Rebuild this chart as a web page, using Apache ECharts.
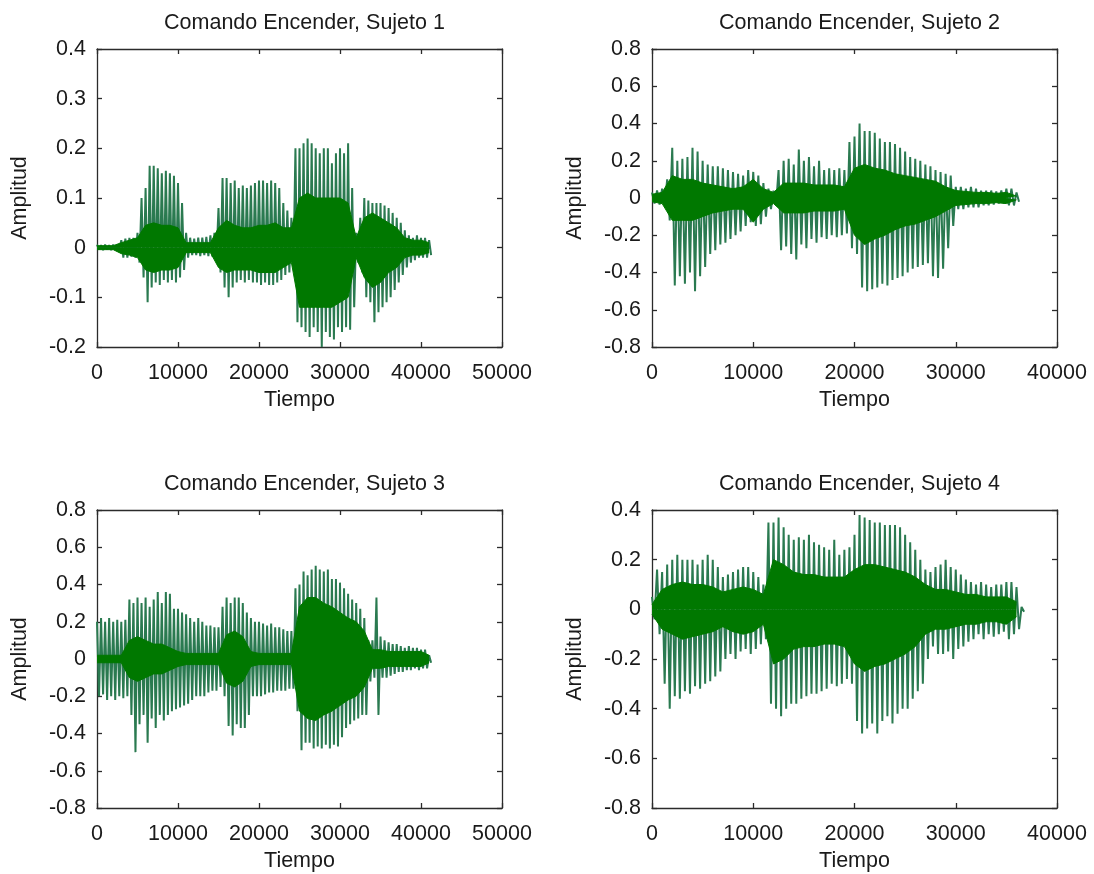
<!DOCTYPE html>
<html>
<head>
<meta charset="utf-8">
<script src="https://cdn.jsdelivr.net/npm/echarts@6/dist/echarts.min.js"></script>
<style>
  html, body { margin: 0; padding: 0; background: #fff; }
  #chart { width: 1094px; height: 874px; }
</style>
</head>
<body>
<div id="chart"></div>
<script>
// samples between two read-off peaks / between two core readings
const binStep = 500;
const coreStep = 1000;

const titles = ['Comando Encender, Sujeto 1', 'Comando Encender, Sujeto 2',
                'Comando Encender, Sujeto 3', 'Comando Encender, Sujeto 4'];
const xMaxes = [50000, 40000, 50000, 40000];
const yMins = [-0.2, -0.8, -0.8, -0.8];
const yMaxes = [0.4, 0.8, 0.8, 0.4];
const yIntervals = [0.1, 0.2, 0.2, 0.2];

// Sujeto 1: peak / trough every 500 samples (0 .. 41000)
const s1Peak = [0.006, 0.005, 0.006, 0.005, 0.006, 0.006, 0.015, 0.018, 0.02, 0.02, 0.03,
  0.1, 0.12, 0.165, 0.165, 0.16, 0.15, 0.155, 0.15, 0.145, 0.13, 0.09,
  0.03, 0.02, 0.018, 0.02, 0.02, 0.022, 0.025, 0.03,
  0.08, 0.14, 0.14, 0.13, 0.135, 0.12, 0.125, 0.12, 0.125, 0.13, 0.135, 0.135, 0.13, 0.135, 0.13, 0.12, 0.09, 0.075, 0.06,
  0.2, 0.2, 0.21, 0.22, 0.21, 0.2, 0.19, 0.2, 0.2, 0.17, 0.19, 0.2, 0.19, 0.21, 0.12,
  0.03, 0.06, 0.1, 0.095, 0.09, 0.09, 0.09, 0.085, 0.08, 0.07, 0.06, 0.05, 0.035, 0.025,
  0.02, 0.025, 0.02, 0.02, 0.015];
const s1Trough = [-0.004, -0.005, -0.004, -0.005, -0.004, -0.005, -0.02, -0.02, -0.018, -0.02, -0.03,
  -0.06, -0.11, -0.08, -0.07, -0.075, -0.065, -0.07, -0.065, -0.07, -0.06, -0.045,
  -0.02, -0.015, -0.015, -0.017, -0.015, -0.017, -0.018, -0.02,
  -0.05, -0.08, -0.1, -0.08, -0.07, -0.065, -0.07, -0.065, -0.07, -0.07, -0.075, -0.07, -0.075, -0.075, -0.07, -0.065, -0.055, -0.05, -0.04,
  -0.15, -0.16, -0.17, -0.18, -0.16, -0.17, -0.2, -0.17, -0.18, -0.185, -0.16, -0.17, -0.16, -0.165, -0.12,
  -0.03, -0.05, -0.1, -0.11, -0.15, -0.13, -0.12, -0.11, -0.1, -0.085, -0.07, -0.055, -0.04, -0.03,
  -0.025, -0.02, -0.02, -0.02, -0.015];
// dense core every 1000 samples (0 .. 41000)
const s1CoreTop = [0.004, 0.004, 0.004, 0.01, 0.015, 0.02, 0.045, 0.05, 0.045, 0.045, 0.04,
  0.01, 0.01, 0.01, 0.01, 0.04, 0.055, 0.045, 0.04, 0.04, 0.045, 0.045, 0.05, 0.04, 0.04,
  0.1, 0.11, 0.1, 0.1, 0.1, 0.1, 0.09, 0.02, 0.06, 0.07, 0.06, 0.05, 0.04, 0.02, 0.015, 0.015, 0.01];
const s1CoreBottom = [-0.004, -0.004, -0.004, -0.012, -0.015, -0.02, -0.045, -0.05, -0.045, -0.045, -0.04,
  -0.01, -0.01, -0.01, -0.01, -0.04, -0.05, -0.045, -0.045, -0.045, -0.05, -0.05, -0.05, -0.04, -0.03,
  -0.12, -0.12, -0.12, -0.12, -0.12, -0.11, -0.1, -0.02, -0.06, -0.08, -0.07, -0.05, -0.04, -0.02, -0.015, -0.015, -0.01];

// Sujeto 2 (0 .. 36000)
const s2Peak = [0.03, 0.04, 0.05, 0.1, 0.27, 0.2, 0.21, 0.22, 0.27, 0.25, 0.2, 0.18, 0.17, 0.17, 0.16, 0.15,
  0.14, 0.13, 0.12, 0.15, 0.14, 0.12, 0.08, 0.05, 0.04,
  0.15, 0.2, 0.21, 0.18, 0.26, 0.2, 0.22, 0.17, 0.2, 0.15, 0.16, 0.15, 0.16, 0.15,
  0.3, 0.33, 0.4, 0.36, 0.36, 0.35, 0.32, 0.3, 0.3, 0.29, 0.27, 0.25, 0.22, 0.21, 0.2, 0.18, 0.17, 0.15, 0.14, 0.13, 0.12,
  0.06, 0.06, 0.05, 0.06, 0.05, 0.04, 0.04, 0.04, 0.035, 0.04, 0.05, 0.05, 0.03];
const s2Trough = [-0.03, -0.035, -0.04, -0.12, -0.47, -0.42, -0.46, -0.4, -0.5, -0.42, -0.37, -0.3, -0.28, -0.25, -0.24, -0.22,
  -0.2, -0.18, -0.15, -0.13, -0.15, -0.14, -0.1, -0.06, -0.04,
  -0.28, -0.26, -0.3, -0.33, -0.25, -0.27, -0.22, -0.24, -0.21, -0.22, -0.2, -0.21, -0.2, -0.19,
  -0.27, -0.3, -0.48, -0.5, -0.49, -0.48, -0.46, -0.47, -0.44, -0.43, -0.42, -0.4, -0.38, -0.37, -0.36, -0.35, -0.42, -0.43, -0.38, -0.27, -0.15,
  -0.06, -0.06, -0.05, -0.05, -0.05, -0.04, -0.04, -0.035, -0.03, -0.03, -0.04, -0.04, -0.02];
const s2CoreTop = [0.02, 0.03, 0.12, 0.1, 0.1, 0.08, 0.07, 0.06, 0.05, 0.06, 0.1, 0.05, 0.03,
  0.08, 0.08, 0.08, 0.07, 0.07, 0.07, 0.06, 0.16, 0.18, 0.16, 0.15, 0.13, 0.12, 0.11, 0.1, 0.09, 0.06,
  0.04, 0.035, 0.03, 0.03, 0.025, 0.03, 0.01];
const s2CoreBottom = [-0.02, -0.03, -0.12, -0.12, -0.12, -0.1, -0.08, -0.07, -0.06, -0.06, -0.13, -0.06, -0.03,
  -0.08, -0.08, -0.08, -0.07, -0.07, -0.07, -0.06, -0.2, -0.25, -0.22, -0.2, -0.17, -0.15, -0.14, -0.12, -0.1, -0.07,
  -0.04, -0.035, -0.03, -0.03, -0.025, -0.03, -0.01];

// Sujeto 3 (0 .. 41000)
const s3Peak = [0.2, 0.22, 0.2, 0.22, 0.2, 0.21, 0.2, 0.21, 0.32, 0.3, 0.33, 0.3, 0.33, 0.28, 0.32, 0.36, 0.3, 0.36, 0.35,
  0.27, 0.27, 0.25, 0.24, 0.22, 0.2, 0.22, 0.2, 0.18, 0.18, 0.17, 0.17,
  0.28, 0.33, 0.3, 0.33, 0.33, 0.3, 0.25, 0.22, 0.2, 0.2, 0.19, 0.18, 0.19, 0.17, 0.17, 0.16, 0.15, 0.15,
  0.38, 0.4, 0.47, 0.45, 0.48, 0.5, 0.48, 0.47, 0.48, 0.43, 0.43, 0.41, 0.38, 0.35, 0.32, 0.3, 0.27, 0.22,
  0.1, 0.1, 0.33, 0.12, 0.1, 0.09, 0.08, 0.08, 0.07, 0.06, 0.07, 0.06, 0.06, 0.05, 0.05, 0.02];
const s3Trough = [-0.2, -0.19, -0.22, -0.2, -0.22, -0.2, -0.21, -0.2, -0.3, -0.5, -0.35, -0.3, -0.45, -0.32, -0.37, -0.3, -0.33, -0.3, -0.28,
  -0.27, -0.26, -0.25, -0.24, -0.22, -0.2, -0.2, -0.2, -0.18, -0.17, -0.17, -0.15,
  -0.2, -0.36, -0.41, -0.35, -0.37, -0.37, -0.3, -0.2, -0.2, -0.2, -0.19, -0.18, -0.18, -0.17, -0.17, -0.17, -0.16, -0.16,
  -0.28, -0.49, -0.45, -0.45, -0.48, -0.47, -0.48, -0.46, -0.48, -0.46, -0.47, -0.42, -0.37, -0.35, -0.33, -0.32, -0.3, -0.3,
  -0.12, -0.1, -0.3, -0.1, -0.1, -0.09, -0.08, -0.07, -0.07, -0.06, -0.06, -0.05, -0.06, -0.05, -0.05, -0.02];
const s3CoreTop = [0.02, 0.02, 0.02, 0.02, 0.1, 0.12, 0.1, 0.08, 0.08, 0.06, 0.04, 0.03, 0.03, 0.03, 0.03, 0.03,
  0.13, 0.15, 0.12, 0.04, 0.03, 0.03, 0.03, 0.03, 0.03, 0.28, 0.33, 0.33, 0.3, 0.28, 0.25, 0.22, 0.2, 0.15,
  0.05, 0.05, 0.04, 0.04, 0.04, 0.04, 0.04, 0.02];
const s3CoreBottom = [-0.02, -0.02, -0.02, -0.02, -0.1, -0.12, -0.1, -0.08, -0.08, -0.06, -0.04, -0.03, -0.03, -0.03, -0.03, -0.03,
  -0.13, -0.15, -0.12, -0.04, -0.03, -0.03, -0.03, -0.03, -0.03, -0.28, -0.32, -0.33, -0.3, -0.28, -0.25, -0.22, -0.2, -0.15,
  -0.05, -0.05, -0.04, -0.04, -0.04, -0.04, -0.04, -0.02];

// Sujeto 4 (0 .. 36500)
const s4Peak = [0.05, 0.16, 0.15, 0.18, 0.2, 0.22, 0.2, 0.2, 0.2, 0.18, 0.2, 0.22, 0.2, 0.17,
  0.13, 0.14, 0.15, 0.16, 0.17, 0.17, 0.15, 0.13, 0.1,
  0.35, 0.35, 0.37, 0.33, 0.3, 0.28, 0.29, 0.28, 0.3, 0.27, 0.26, 0.25, 0.24, 0.28, 0.22, 0.24, 0.25,
  0.3, 0.38, 0.37, 0.36, 0.35, 0.35, 0.34, 0.34, 0.34, 0.33, 0.3, 0.27, 0.24, 0.2,
  0.16, 0.15, 0.17, 0.18, 0.2, 0.17, 0.16, 0.14, 0.12, 0.11, 0.1, 0.11, 0.1, 0.09, 0.1, 0.1, 0.11, 0.11, 0.09, 0.01];
const s4Trough = [-0.04, -0.1, -0.3, -0.4, -0.35, -0.36, -0.33, -0.34, -0.31, -0.32, -0.3, -0.29, -0.27, -0.25,
  -0.2, -0.18, -0.2, -0.17, -0.16, -0.18, -0.16, -0.14, -0.12,
  -0.38, -0.4, -0.43, -0.4, -0.38, -0.38, -0.36, -0.35, -0.34, -0.34, -0.33, -0.32, -0.3, -0.31, -0.3, -0.28, -0.3,
  -0.45, -0.5, -0.48, -0.46, -0.5, -0.45, -0.43, -0.46, -0.42, -0.4, -0.4, -0.36, -0.33, -0.3,
  -0.2, -0.15, -0.18, -0.18, -0.17, -0.2, -0.16, -0.15, -0.13, -0.12, -0.1, -0.12, -0.1, -0.11, -0.1, -0.09, -0.12, -0.1, -0.08, -0.01];
const s4CoreTop = [0.02, 0.08, 0.1, 0.11, 0.1, 0.1, 0.09, 0.07, 0.08, 0.09, 0.08, 0.06,
  0.2, 0.18, 0.15, 0.14, 0.14, 0.13, 0.13, 0.13, 0.16, 0.18, 0.18, 0.17, 0.16, 0.15, 0.13, 0.1,
  0.08, 0.08, 0.07, 0.06, 0.06, 0.05, 0.05, 0.05, 0.03];
const s4CoreBottom = [-0.02, -0.08, -0.1, -0.12, -0.11, -0.1, -0.09, -0.07, -0.09, -0.1, -0.09, -0.06,
  -0.22, -0.2, -0.16, -0.15, -0.15, -0.14, -0.14, -0.15, -0.22, -0.25, -0.23, -0.22, -0.2, -0.18, -0.15, -0.1,
  -0.08, -0.08, -0.07, -0.06, -0.06, -0.05, -0.05, -0.06, -0.03];

const peaks = [s1Peak, s2Peak, s3Peak, s4Peak];
const troughs = [s1Trough, s2Trough, s3Trough, s4Trough];
const coreTops = [s1CoreTop, s2CoreTop, s3CoreTop, s4CoreTop];
const coreBottoms = [s1CoreBottom, s2CoreBottom, s3CoreBottom, s4CoreBottom];

const font = 'Liberation Sans';
const ink = '#1a1a1a';
const frame = '#2b2b2b';
const green = '#007800';
const spikeGreen = '#2a7a50';

const grids = [
  { left: 97, top: 49, width: 405, height: 298 },
  { left: 652, top: 49, width: 405, height: 298 },
  { left: 97, top: 510, width: 405, height: 298 },
  { left: 652, top: 510, width: 405, height: 298 }
];

// peak at bin start, trough half a bin later -> the vertical strokes of the waveform
function zigzag(hi, lo) {
  const pts = [];
  for (let i = 0; i < hi.length; i++) {
    pts.push([i * binStep, hi[i]]);
    pts.push([i * binStep + binStep / 2, lo[i]]);
  }
  return pts;
}

function band(vals) {
  return vals.map((v, i) => [i * coreStep, v]);
}

const xAxes = [], yAxes = [], series = [], title = [];

grids.forEach((g, k) => {
  title.push({
    text: titles[k],
    left: g.left + g.width / 2,
    top: g.top - 42,
    textAlign: 'center',
    textStyle: { fontFamily: font, fontSize: 21.5, fontWeight: 'normal', color: ink }
  });
  const lineStyle = { color: frame, width: 1.3 };
  ['bottom', 'top'].forEach(pos => {
    xAxes.push({
      type: 'value', gridIndex: k, position: pos,
      min: 0, max: xMaxes[k], interval: 10000,
      name: pos === 'bottom' ? 'Tiempo' : '',
      nameLocation: 'middle', nameGap: 42,
      nameTextStyle: { fontFamily: font, fontSize: 21.5, color: ink },
      axisLine: { show: true, onZero: false, lineStyle },
      axisTick: { show: true, inside: true, length: 5, lineStyle },
      axisLabel: {
        show: pos === 'bottom', margin: 15, fontFamily: font, fontSize: 21.5, color: ink,
        formatter: v => String(v)
      },
      splitLine: { show: false }
    });
  });
  ['left', 'right'].forEach(pos => {
    yAxes.push({
      type: 'value', gridIndex: k, position: pos,
      min: yMins[k], max: yMaxes[k], interval: yIntervals[k],
      name: pos === 'left' ? 'Amplitud' : '',
      nameLocation: 'middle', nameGap: 66,
      nameTextStyle: { fontFamily: font, fontSize: 21.5, color: ink },
      axisLine: { show: true, onZero: false, lineStyle },
      axisTick: { show: true, inside: true, length: 5, lineStyle },
      axisLabel: { show: pos === 'left', margin: 11, fontFamily: font, fontSize: 21.5, color: ink },
      splitLine: { show: false }
    });
  });

  series.push({
    type: 'line', xAxisIndex: 2 * k, yAxisIndex: 2 * k,
    data: zigzag(peaks[k], troughs[k]),
    showSymbol: false, sampling: 'none', silent: true,
    lineStyle: { color: spikeGreen, width: 2 }, z: 2
  });
  [coreTops[k], coreBottoms[k]].forEach(vals => {
    series.push({
      type: 'line', xAxisIndex: 2 * k, yAxisIndex: 2 * k,
      data: band(vals),
      showSymbol: false, silent: true,
      lineStyle: { color: green, width: 1 },
      areaStyle: { color: green, opacity: 1 }, z: 3
    });
  });
});

const chart = echarts.init(document.getElementById('chart'), null, { renderer: 'canvas' });
chart.setOption({
  animation: false,
  backgroundColor: '#ffffff',
  title,
  grid: grids,
  xAxis: xAxes,
  yAxis: yAxes,
  series
});
</script>
</body>
</html>
